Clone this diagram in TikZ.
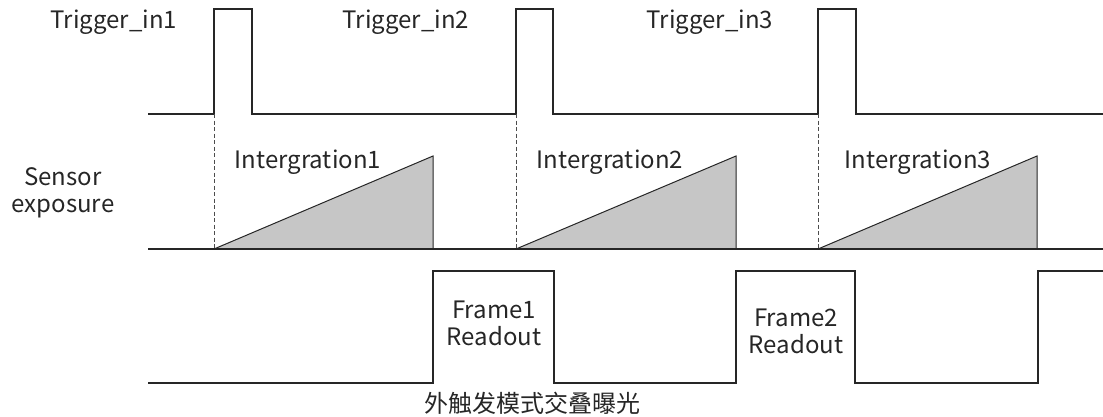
\documentclass[tikz,border=0pt]{standalone}
\usepackage{fontspec}
\setmainfont{Noto Sans CJK SC}
\usepackage{tikz}
\usetikzlibrary{calc}

\begin{document}
\begin{tikzpicture}[x=1pt,y=-1pt]
            % Define styles
            \tikzstyle{wave} = [line width=1.1pt,draw=black!85!white,line join=miter]
            \tikzstyle{ramp} = [line width=1pt,draw=black!85!white,fill=gray!45!white]
            \tikzstyle{guide} = [line width=0.8pt,draw=black!70!white,dashed,dash pattern=on 4pt off 2.5pt]
            \tikzstyle{lbl} = [inner sep=0,font=\fontsize{24}{27}\selectfont,text=black!85!white,align=center]
            \useasboundingbox (0,0) rectangle (1103,416);
            % Trigger input
                % Pulses
                \draw [wave] (148,114) -- (214,114) -- (214,9) -- (252,9) -- (252,114)
                    -- (516,114) -- (516,9) -- (553,9) -- (553,114)
                    -- (818,114) -- (818,9) -- (856,9) -- (856,114) -- (1103,114);
                % Labels
                \node (trig1) at (114,22) [lbl] {Trigger\_in1};
                \node (trig2) at (406,22) [lbl] {Trigger\_in2};
                \node (trig3) at (710,22) [lbl] {Trigger\_in3};
            % Sensor exposure
                % Integration ramps
                \draw [ramp] (214,249) -- (433,156) -- (433,249) -- cycle;
                \draw [ramp] (516,249) -- (736,156) -- (736,249) -- cycle;
                \draw [ramp] (818,249) -- (1037,156) -- (1037,249) -- cycle;
                % Base line
                \draw [wave] (148,249) -- (1103,249);
                % Trigger to exposure start
                \draw [guide] (214,114) -- (214,249);
                \draw [guide] (516,114) -- (516,249);
                \draw [guide] (818,114) -- (818,249);
                % Labels
                \node (sens) at (63,193) [lbl] {Sensor\\exposure};
                \node (int1) at (308,162) [lbl] {Intergration1};
                \node (int2) at (610,162) [lbl] {Intergration2};
                \node (int3) at (918,162) [lbl] {Intergration3};
            % Readout
                \draw [wave] (148,383) -- (433,383) -- (433,271) -- (554,271) -- (554,383)
                    -- (736,383) -- (736,271) -- (855,271) -- (855,383)
                    -- (1038,383) -- (1038,271) -- (1103,271);
                \node (rd1) at (494,323) [lbl] {Frame1\\Readout};
                \node (rd2) at (796,331) [lbl] {Frame2\\Readout};
            % Caption
                \node (cap) at (532,403) [lbl] {外触发模式交叠曝光};
\end{tikzpicture}
\end{document}
